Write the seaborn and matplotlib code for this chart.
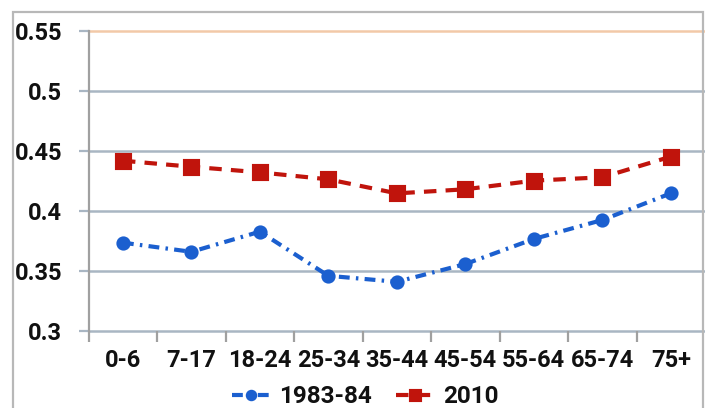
import matplotlib
matplotlib.use("Agg")
import matplotlib.pyplot as plt
from matplotlib.patches import Rectangle
from matplotlib.ticker import FixedLocator, FormatStrFormatter
import seaborn as sns
import pandas as pd

# Age groups and the share values for the two survey years
age_groups = ["0-6", "7-17", "18-24", "25-34", "35-44", "45-54", "55-64", "65-74", "75+"]
values_1983 = [0.3736, 0.3660, 0.3828, 0.3460, 0.3410, 0.3558, 0.3767, 0.3925, 0.4147]
values_2010 = [0.4419, 0.4369, 0.4322, 0.4264, 0.4147, 0.4181, 0.4253, 0.4281, 0.4453]
series_names = ["1983-84", "2010"]
y_ticks = [0.3, 0.35, 0.4, 0.45, 0.5, 0.55]

df = pd.DataFrame({
    "age": age_groups * 2,
    "value": values_1983 + values_2010,
    "series": [series_names[0]] * len(age_groups) + [series_names[1]] * len(age_groups),
})

sns.set_theme(style="white")
plt.rcParams["font.family"] = ["Roboto", "DejaVu Sans"]
plt.rcParams["font.weight"] = "bold"

blue = "#1b5fcf"
red = "#c0140c"
grid_col = "#a9b6c3"

fig = plt.figure(figsize=(7.05, 4.08), dpi=100)
ax = fig.add_axes([0.1258, 0.1887, 0.8742, 0.7353])

# Outer chart frame
fig.patches.append(Rectangle((13 / 705, -0.05), (703 - 13) / 705, 1.05 - 12 / 408,
                             transform=fig.transFigure, fill=False,
                             edgecolor="#b8b8b8", linewidth=1.6, zorder=0))

sns.pointplot(data=df, x="age", y="value", hue="series", order=age_groups,
              hue_order=series_names, palette=[blue, red],
              markers=["o", "s"],
              linestyles=[(0, (2.6, 1.5, 0.6, 1.5)), (0, (3.0, 2.2))],
              errorbar=None, linewidth=3, markersize=8, ax=ax)

# Marker sizes differ per series
for line in ax.lines:
    if line.get_marker() == "s":
        line.set_markersize(10)
    elif line.get_marker() == "o":
        line.set_markersize(8)

ax.set_xlim(-0.5, len(age_groups) - 0.5)
ax.set_ylim(0.3, 0.55)
ax.yaxis.set_major_locator(FixedLocator(y_ticks))
ax.yaxis.set_major_formatter(FormatStrFormatter("%g"))

# Horizontal gridlines, top one tinted
for v in y_ticks:
    ax.axhline(v, color="#f2c9a8" if v == 0.55 else grid_col,
               linewidth=1.8, zorder=0.5, clip_on=False)

ax.set_xlabel("")
ax.set_ylabel("")
for side in ["top", "right", "bottom"]:
    ax.spines[side].set_visible(False)
ax.spines["left"].set_color("#a0a0a0")
ax.spines["left"].set_linewidth(1.6)

ax.tick_params(axis="y", which="major", length=7, width=1.6, color=grid_col,
               labelsize=17, pad=12, left=True)
ax.tick_params(axis="x", which="major", length=0, labelsize=17, pad=13)
ax.xaxis.set_minor_locator(FixedLocator([i - 0.5 for i in range(len(age_groups))]))
ax.tick_params(axis="x", which="minor", length=8, width=1.6, color="#a0a0a0",
               bottom=True, direction="out")
for lbl in ax.get_xticklabels() + ax.get_yticklabels():
    lbl.set_fontweight("bold")
    lbl.set_color("#111111")

leg = ax.legend(loc="center", bbox_to_anchor=(0.518, 0.028),
                bbox_transform=fig.transFigure, ncol=2, frameon=False,
                fontsize=17.5, handlelength=1.6, columnspacing=1.0,
                handletextpad=0.35, borderpad=0, markerscale=0.75)
for t in leg.get_texts():
    t.set_fontweight("bold")
    t.set_color("#111111")

fig.savefig("out.png", dpi=100)
